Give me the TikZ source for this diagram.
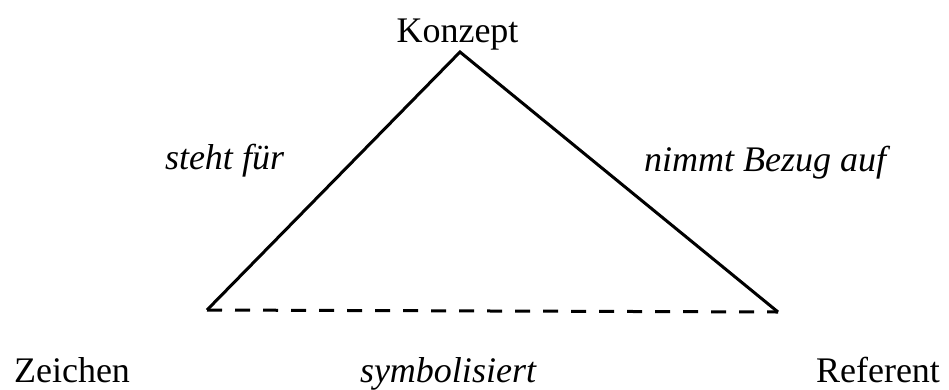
\documentclass[tikz,border=0pt]{standalone}
\usepackage{fontspec}
\setmainfont{Liberation Serif}
\begin{document}
\begin{tikzpicture}[x=1pt,y=-1pt,
  lbl/.style={anchor=base,inner sep=0pt,font=\fontsize{36}{40}\selectfont},
  ilbl/.style={lbl,font=\fontsize{36}{40}\selectfont\itshape},
  edge/.style={line width=3pt,line join=miter},
  dashedge/.style={line width=3pt,dash pattern=on 15pt off 13pt}]
\useasboundingbox (0,0) rectangle (949,389);
\coordinate (apex) at (460,52);
\coordinate (left) at (207,310);
\coordinate (right) at (778,312);
\node[lbl] (konzept) at (457.5,42) {Konzept};
\node[lbl] (zeichen) at (72,382) {Zeichen};
\node[lbl] (referent) at (878,382) {Referent};
\node[ilbl] (steht) at (224.5,169) {steht für};
\node[ilbl] (nimmt) at (765,171) {nimmt Bezug auf};
\node[ilbl] (symb) at (448,382) {symbolisiert};
\draw[edge] (left) -- (apex) -- (right);
\draw[dashedge] (left) -- (right);
\end{tikzpicture}
\end{document}
